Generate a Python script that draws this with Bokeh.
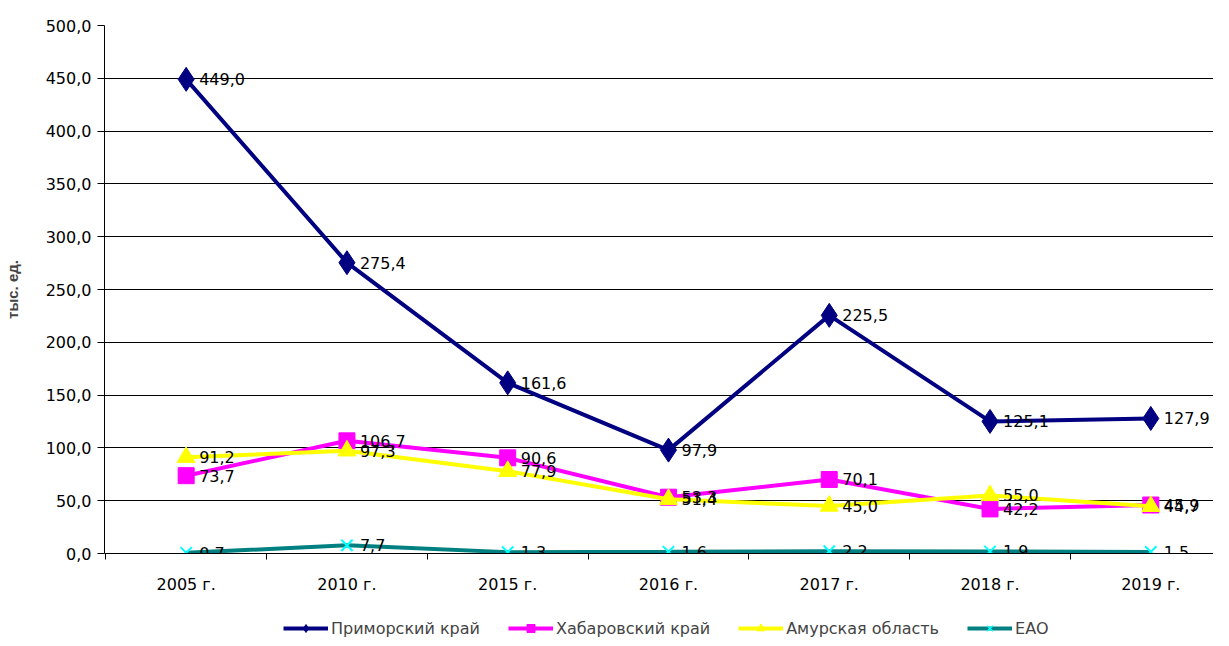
from bokeh.plotting import figure
from bokeh.models import FixedTicker, Legend, LegendItem, Range1d, ColumnDataSource
from bokeh.layouts import column
from bokeh.core.properties import value
from bokeh.embed import file_html
from bokeh.resources import INLINE

years = ["2005 г.", "2010 г.", "2015 г.", "2016 г.", "2017 г.", "2018 г.", "2019 г."]
primorsky = [449.0, 275.4, 161.6, 97.9, 225.5, 125.1, 127.9]
khabarovsk = [73.7, 106.7, 90.6, 53.3, 70.1, 42.2, 45.9]
amur = [91.2, 97.3, 77.9, 51.4, 45.0, 55.0, 44.7]
eao = [0.7, 7.7, 1.3, 1.6, 2.2, 1.9, 1.5]
series_names = ["Приморский край", "Хабаровский край", "Амурская область", "ЕАО"]
y_ticks = [0, 50, 100, 150, 200, 250, 300, 350, 400, 450, 500]

FONT = "DejaVu Sans"

def fmt(v):
    return f"{v:.1f}".replace(".", ",")

p = figure(width=1213, height=600, output_backend="svg", toolbar_location=None,
           x_range=Range1d(-0.508, 6.39), y_range=Range1d(0, 500),
           min_border_left=102, min_border_right=0, min_border_top=25,
           min_border_bottom=47)
p.outline_line_color = None
p.background_fill_color = "white"
p.border_fill_color = "white"

xs = list(range(len(years)))

p.xgrid.grid_line_color = None
p.ygrid.grid_line_color = "black"
p.ygrid.grid_line_width = 1
p.ygrid.ticker = FixedTicker(ticks=y_ticks)

p.yaxis.ticker = FixedTicker(ticks=y_ticks)
p.yaxis.major_label_overrides = {v: fmt(v) for v in y_ticks}
p.yaxis.major_label_text_font = FONT
p.yaxis.major_label_text_font_size = "16px"
p.yaxis.major_label_text_color = "black"
p.yaxis.major_tick_out = 7
p.yaxis.major_tick_in = 0
p.yaxis.minor_tick_line_color = None
p.yaxis.axis_line_color = "black"
p.yaxis.major_tick_line_color = "black"
p.yaxis.major_label_standoff = 6
p.yaxis.axis_label = "тыс. ед."
p.yaxis.axis_label_text_font = "Liberation Sans"
p.yaxis.axis_label_text_font_style = "bold"
p.yaxis.axis_label_text_font_size = "15px"
p.yaxis.axis_label_standoff = 22

p.xaxis.ticker = FixedTicker(ticks=xs, minor_ticks=[i - 0.5 for i in range(len(years) + 1)])
p.xaxis.major_label_overrides = {i: y for i, y in enumerate(years)}
p.xaxis.major_label_text_font = FONT
p.xaxis.major_label_text_font_size = "16px"
p.xaxis.major_label_text_color = "black"
p.xaxis.major_tick_line_color = None
p.xaxis.major_tick_out = 0
p.xaxis.major_tick_in = 0
p.xaxis.minor_tick_line_color = "black"
p.xaxis.minor_tick_out = 6
p.xaxis.minor_tick_in = 0
p.xaxis.axis_line_color = "black"
p.xaxis.major_label_standoff = 15

specs = [
    (primorsky, "#000080", "#000080", "diamond", 24),
    (khabarovsk, "#FF00FF", "#FF00FF", "square", 16),
    (amur, "#FFFF00", "#FFFF00", "triangle", 18),
    (eao, "#008080", "#00FFFF", "x", 16),
]

sources = []
for (vals, lc, mc, marker, size) in specs:
    src = ColumnDataSource(dict(x=xs, y=vals, t=[fmt(v) for v in vals]))
    sources.append(src)
    p.line("x", "y", source=src, line_color=lc, line_width=4)
    if marker == "x":
        p.scatter("x", "y", source=src, marker=marker, size=size,
                  line_color=mc, line_width=2)
    else:
        p.scatter("x", "y", source=src, marker=marker, size=size,
                  fill_color=mc, line_color=mc)

for src in sources:
    p.text("x", "y", text="t", source=src, x_offset=13, text_baseline="middle",
           text_align="left", text_font=value(FONT), text_font_size="16px",
           text_color="black")

# legend strip under the chart (its data range is out of view; only the legend shows)
lg = figure(width=1213, height=38, output_backend="svg", toolbar_location=None,
            x_range=Range1d(-20, -19), y_range=Range1d(-20, -19),
            min_border_left=102, min_border_right=0, min_border_top=0,
            min_border_bottom=0)
lg.axis.visible = False
lg.grid.visible = False
lg.outline_line_color = None
lg.border_fill_color = "white"
lg.background_fill_color = "white"

items = []
for (vals, lc, mc, marker, size), name, src in zip(specs, series_names, sources):
    lr = lg.line("x", "y", source=src, line_color=lc, line_width=4)
    if marker == "x":
        sr = lg.scatter("x", "y", source=src, marker=marker, size=11,
                        line_color=mc, line_width=1.5)
    else:
        sr = lg.scatter("x", "y", source=src, marker=marker,
                        size=15 if marker == "diamond" else 11,
                        fill_color=mc, line_color=mc)
    items.append(LegendItem(label=name, renderers=[lr, sr]))

legend = Legend(items=items, orientation="horizontal", location=(179, 0))
legend.label_text_font = FONT
legend.label_text_font_size = "16px"
legend.label_standoff = 3
legend.glyph_width = 45
legend.glyph_height = 20
legend.spacing = 28
legend.border_line_color = None
legend.background_fill_alpha = 0
legend.padding = 0
legend.margin = 0
lg.add_layout(legend, "center")

layout = column(p, lg, spacing=0)
open("out.html", "w").write(file_html(layout, INLINE))
